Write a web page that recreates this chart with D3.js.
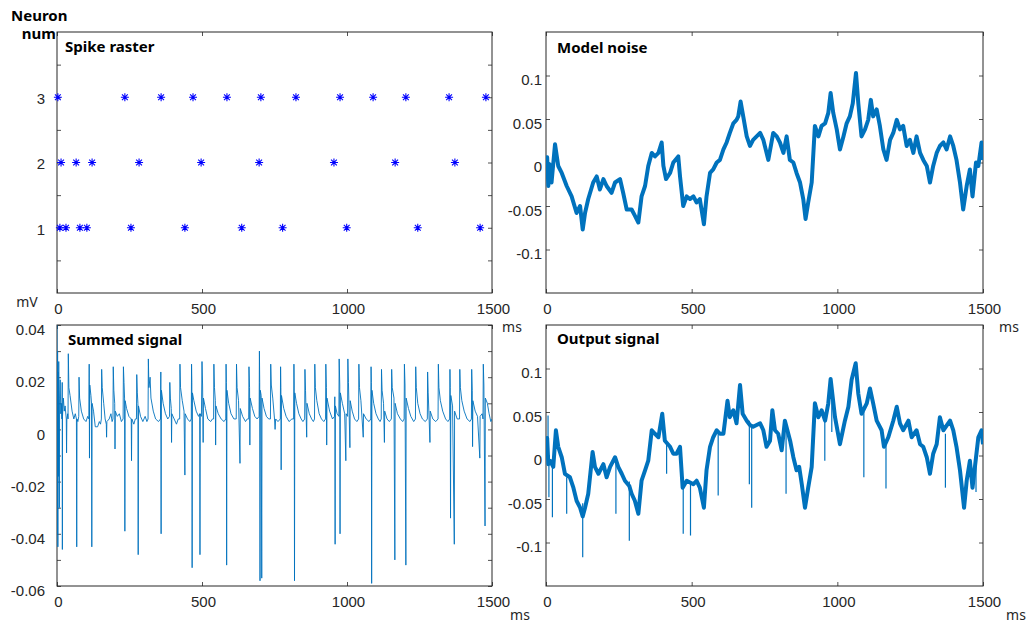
<!DOCTYPE html>
<html><head><meta charset="utf-8">
<script src="https://cdn.jsdelivr.net/npm/d3@7"></script>
<style>body{margin:0;background:#fff}svg{display:block}</style>
</head><body><svg id="c" width="1030" height="633"></svg>
<script>
// ---------------- DATA ----------------
const timeTicks = [0, 500, 1000, 1500];
const titles = ["Spike raster", "Model noise", "Summed signal", "Output signal"];

const spikeN1 = [10, 31, 79, 103, 255, 441, 637, 778, 999, 1244, 1459];
const spikeN2 = [14, 66, 121, 283, 497, 697, 955, 1166, 1372];
const spikeN3 = [3, 234, 359, 469, 586, 703, 824, 976, 1090, 1203, 1352, 1479];
const rasterTicks = [0.5, 1, 1.5, 2, 2.5, 3, 3.5];
const rasterLabels = [1, 2, 3];

const noiseTicks = [-0.1, -0.05, 0, 0.05, 0.1];
const summedTicks = [-0.06, -0.05, -0.04, -0.03, -0.02, -0.01, 0, 0.01, 0.02, 0.03, 0.04];
const summedLabels = [-0.06, -0.04, -0.02, 0, 0.02, 0.04];

const noise = [[0,-0.004],[4,0.006],[8,-0.027],[12,-0.002],[19,-0.023],[31,0.021],[42,-0.004],[54,-0.012],[71,-0.027],[88,-0.039],[105,-0.058],[117,-0.050],[126,-0.077],[134,-0.058],[145,-0.042],[162,-0.023],[174,-0.016],[185,-0.031],[197,-0.019],[208,-0.027],[225,-0.035],[237,-0.023],[254,-0.019],[265,-0.035],[277,-0.054],[294,-0.054],[305,-0.061],[317,-0.069],[328,-0.039],[340,-0.027],[351,-0.004],[363,0.011],[374,0.007],[386,0.011],[397,0.023],[403,-0.004],[412,-0.019],[426,-0.012],[437,0.000],[454,0.007],[460,-0.016],[471,-0.050],[483,-0.039],[494,-0.042],[506,-0.039],[517,-0.046],[528,-0.042],[542,-0.071],[551,-0.039],[563,-0.012],[574,-0.008],[586,0.000],[597,0.003],[609,0.015],[620,0.023],[631,0.034],[643,0.045],[654,0.049],[660,0.053],[668,0.070],[677,0.053],[689,0.030],[700,0.019],[711,0.026],[735,0.034],[746,0.026],[763,0.003],[780,0.034],[792,0.030],[803,0.023],[815,0.011],[826,0.030],[837,0.003],[849,0.000],[860,-0.012],[872,-0.023],[883,-0.042],[891,-0.065],[900,-0.046],[912,-0.023],[923,0.042],[935,0.030],[946,0.042],[958,0.045],[969,0.057],[977,0.080],[986,0.057],[998,0.038],[1009,0.015],[1021,0.030],[1032,0.045],[1043,0.053],[1053,0.068],[1064,0.103],[1072,0.068],[1083,0.030],[1095,0.038],[1106,0.049],[1115,0.072],[1123,0.053],[1135,0.061],[1146,0.042],[1158,0.015],[1169,0.003],[1181,0.026],[1192,0.034],[1204,0.049],[1215,0.038],[1226,0.042],[1238,0.019],[1249,0.026],[1261,0.011],[1272,0.030],[1284,0.011],[1295,0.003],[1307,-0.004],[1318,-0.023],[1329,-0.004],[1341,0.011],[1352,0.019],[1364,0.023],[1375,0.015],[1387,0.030],[1398,0.019],[1409,0.003],[1421,-0.023],[1432,-0.054],[1444,-0.027],[1455,-0.008],[1464,-0.039],[1476,0.000],[1484,-0.004],[1495,0.023],[1500,0.003]];

const summed = [[0,0.040],[1,-0.040],[2,0.030],[3,-0.045],[4,0.022],[5,-0.018],[6,0.026],[8,-0.030],[9,0.012],[11,0.019],[13,0.006],[15,0.010],[17,0.004],
[18,0.018],[18.5,-0.046],[19,0.005],[22,0.012],[25,0.007],[28,0.009],[32,0.004],[33,-0.009],[34,0.004],[37,0.006],
[38,0.004],[39,0.029],[41,0.016],[45,0.013],[52,0.007],[58,0.004],[63,0.006],[67,0.004],[68,-0.045],[69,0.004],[72,0.003],
[75,0.005],[76,0.020],[78,0.012],[84,0.007],[92,0.004],[100,0.003],[106,0.005],
[110,0.004],[111,0.025],[112,-0.011],[113,0.017],[117,0.013],[119,0.010],[120,-0.045],[121,0.010],[126,0.007],[132,0.001],[140,0.001],[146,0.003],[150,0.002],
[153,0.004],[154,0.023],[156,0.016],[161,0.010],[166,0.004],[170,0.002],[171,-0.003],[172,0.003],[180,0.004],[186,0.006],[190,0.003],
[193,0.004],[194,0.024],[196,0.015],[199,0.010],[200,-0.0075],[201,0.007],[208,0.005],[215,0.006],[222,0.003],
[228,0.004],[229,0.024],[231,0.018],[233,0.012],[234,-0.039],[235,0.011],[240,0.008],[248,0.005],[256,0.004],[257,-0.012],[258,0.004],[265,0.002],[270,0.004],
[274,0.004],[275,0.021],[277,0.014],[279,0.010],[280,-0.048],[281,0.009],[288,0.005],[296,0.003],[304,0.005],[310,0.003],
[314,0.004],[315,0.027],[317,0.016],[321,0.020],[324,0.012],[332,0.007],[340,0.004],[350,0.003],
[357,0.004],[358,0.022],[359,-0.040],[360,0.015],[366,0.010],[374,0.006],[382,0.004],
[388,0.005],[389,0.018],[391,0.012],[394,0.008],[395,-0.005],[396,0.006],[404,0.004],[412,0.002],[418,0.004],
[423,0.004],[424,0.025],[426,0.016],[432,0.011],[438,0.007],[441,-0.0175],[442,0.006],[450,0.004],[458,0.003],
[463,0.004],[464,0.025],[465,0.018],[466,-0.053],[467,0.014],[472,0.011],[480,0.007],[488,0.005],
[492,0.006],[493,-0.048],[494,0.006],[498,0.005],[500,0.026],[502,0.017],[504,-0.005],[505,0.012],[512,0.008],[520,0.004],[530,0.003],[536,0.004],
[540,0.004],[541,0.025],[543,0.016],[546,0.011],[547,-0.006],[548,0.009],[556,0.006],[566,0.004],[576,0.003],
[582,0.004],[583,0.025],[584,0.018],[585,-0.052],[586,0.015],[592,0.010],[600,0.006],[610,0.004],
[618,0.004],[619,0.025],[621,0.016],[626,0.011],[631,-0.013],[632,0.008],[640,0.005],[650,0.003],[656,0.004],
[661,0.004],[662,0.024],[664,0.016],[665,-0.006],[666,0.012],[674,0.008],[682,0.005],[690,0.004],
[697,0.005],[698,0.030],[699,0.018],[700,-0.058],[701,0.015],[704,0.013],[706,-0.057],[707,0.012],[714,0.008],[722,0.005],[730,0.004],
[736,0.004],[737,0.025],[739,0.017],[744,0.012],[750,0.004],[752,0.000],[754,0.004],[762,0.003],
[770,0.004],[771,0.024],[772,0.016],[773,-0.0155],[774,0.013],[782,0.008],[790,0.005],[800,0.003],[810,0.004],
[816,0.004],[817,0.025],[818,0.017],[819,-0.058],[820,0.014],[826,0.010],[834,0.006],[842,0.004],[848,0.003],
[854,0.004],[855,0.023],[857,0.015],[861,-0.003],[862,0.010],[870,0.006],[878,0.004],[884,0.003],
[888,0.004],[889,0.025],[891,0.016],[896,0.011],[904,0.006],[912,0.004],[920,0.003],
[926,0.004],[927,0.025],[929,0.016],[930,-0.006],[931,0.012],[940,0.007],[950,0.004],
[957,0.005],[958,0.0125],[959,-0.044],[960,0.009],[966,0.006],
[972,0.005],[973,0.027],[975,0.017],[976,-0.040],[977,0.014],[984,0.010],[992,0.006],[996,-0.012],[997,0.006],
[1002,0.005],[1003,0.027],[1005,0.018],[1010,-0.007],[1011,0.011],[1018,0.007],[1026,0.004],[1034,0.003],
[1040,0.004],[1041,0.025],[1043,0.016],[1048,0.011],[1056,-0.003],[1057,0.006],[1066,0.004],[1076,0.003],
[1082,0.004],[1083,0.024],[1084,0.018],[1085,-0.059],[1086,0.015],[1092,0.010],[1100,0.006],[1108,0.004],[1114,0.003],
[1118,0.004],[1119,0.023],[1121,0.015],[1126,0.010],[1129,-0.005],[1130,0.007],[1138,0.004],[1146,0.003],
[1153,0.004],[1154,0.023],[1156,0.016],[1162,0.012],[1165,-0.050],[1166,0.010],[1174,0.006],[1184,0.004],[1192,0.003],
[1197,0.004],[1198,0.025],[1200,0.017],[1203,-0.052],[1204,0.012],[1212,0.008],[1220,0.005],[1230,0.003],
[1236,0.004],[1237,0.024],[1239,0.016],[1244,0.010],[1252,0.006],[1260,0.004],[1270,0.003],
[1277,0.004],[1278,0.022],[1280,0.014],[1286,-0.005],[1287,0.007],[1296,0.004],[1306,0.003],
[1314,0.004],[1315,0.025],[1317,0.016],[1322,0.011],[1330,0.007],[1340,0.004],[1348,0.003],
[1354,0.004],[1355,0.023],[1356,0.016],[1357,-0.034],[1358,0.013],[1364,0.009],[1370,-0.044],[1371,0.007],[1380,0.004],
[1388,0.004],[1389,0.023],[1391,0.016],[1396,0.011],[1404,0.007],[1414,0.004],[1424,0.003],
[1429,0.004],[1430,0.023],[1432,0.015],[1433,-0.0066],[1434,0.011],[1442,0.007],[1450,0.005],[1458,-0.011],[1459,0.005],
[1466,0.006],[1469,0.004],[1470,0.025],[1472,0.017],[1476,-0.037],[1477,0.012],[1484,0.010],[1490,0.006],[1496,0.003],[1500,0.004]];

const outputTrace = [[0,0.010],[4,0.020],[8,-0.010],[14,-0.006],[25,-0.013],[34,0.029],[42,0.010],[54,-0.002],[65,-0.021],[82,-0.025],[94,-0.037],[105,-0.052],[117,-0.060],[126,-0.070],[134,-0.060],[145,-0.044],[160,0.004],[168,-0.013],[180,-0.021],[197,-0.010],[208,-0.025],[220,-0.013],[237,-0.002],[248,-0.013],[260,-0.021],[271,-0.029],[286,-0.035],[294,-0.044],[305,-0.052],[317,-0.067],[328,-0.029],[340,-0.017],[351,-0.006],[363,0.029],[374,0.025],[386,0.021],[399,0.048],[408,0.017],[426,0.010],[437,0.002],[448,0.002],[460,0.010],[469,-0.037],[483,-0.029],[506,-0.033],[517,-0.029],[528,-0.037],[542,-0.060],[551,-0.017],[563,0.010],[574,0.021],[586,0.029],[597,0.025],[609,0.025],[623,0.063],[631,0.044],[643,0.052],[654,0.037],[666,0.081],[675,0.048],[689,0.040],[700,0.035],[711,0.033],[735,0.037],[746,0.029],[757,0.010],[769,0.017],[777,0.052],[786,0.029],[797,0.025],[809,0.006],[820,0.040],[838,0.017],[849,-0.002],[860,-0.017],[869,-0.013],[878,-0.033],[889,-0.060],[900,-0.037],[912,-0.013],[923,0.060],[935,0.044],[946,0.052],[958,0.040],[969,0.060],[977,0.088],[992,0.044],[1009,0.013],[1026,0.040],[1038,0.056],[1049,0.087],[1063,0.106],[1072,0.071],[1083,0.048],[1101,0.060],[1112,0.077],[1123,0.060],[1135,0.040],[1152,0.029],[1160,0.010],[1175,0.021],[1192,0.040],[1204,0.056],[1215,0.037],[1226,0.029],[1244,0.040],[1255,0.021],[1272,0.029],[1284,0.013],[1295,0.010],[1307,-0.002],[1318,-0.021],[1329,0.002],[1341,0.013],[1352,0.044],[1364,0.029],[1387,0.040],[1398,0.029],[1409,0.010],[1421,-0.017],[1435,-0.060],[1444,-0.029],[1455,-0.006],[1464,-0.037],[1484,0.021],[1495,0.029],[1500,0.013]];
// [time, top, bottom] of the thin spikes riding on the output trace
const outputSpikes = [[7,0.046,-0.005],[10,0.0,-0.048],[22,-0.005,-0.071],[71,-0.025,-0.067],[126,-0.055,-0.117],[240,-0.005,-0.067],[286,-0.030,-0.098],[414,0.015,-0.021],[471,-0.030,-0.090],[496,-0.030,-0.092],[591,0.025,-0.046],[698,0.040,-0.033],[706,0.035,-0.060],[824,0.035,-0.044],[957,0.040,-0.006],[981,0.070,0.027],[1091,0.050,-0.025],[1167,0.015,-0.038],[1371,0.025,-0.037],[1476,0.000,-0.042]];

// ---------------- DRAW ----------------
const svg = d3.select("#c");
const AX = "#262626", LINE = "#0072BD";
const TICKFONT = "'Liberation Sans', Arial, sans-serif";
const BOLDFONT = "'Noto Sans', 'Open Sans', sans-serif";
const fmt = d => String(Math.round(d * 1000) / 1000);

function makePanel(L, T, R, B, yDom) {
  return {L, T, R, B,
    x: d3.scaleLinear().domain([0, 1500]).range([L, R]),
    y: d3.scaleLinear().domain(yDom).range([B, T])};
}
const pTL = makePanel(57, 32, 492, 293, [0, 4]);
const pTR = makePanel(546, 32, 983, 293, [-0.15, 0.15]);
const pBL = makePanel(57, 325, 492, 586, [-0.06, 0.04]);
const pBR = makePanel(546, 325, 983, 586, [-0.15, 0.15]);

function frame(p, yTicks, yLabels, ypad, ydy, id) {
  const g = svg.append("g");
  const isLab = d => yLabels.some(l => Math.abs(l - d) < 1e-9);
  const style = s => {
    s.select(".domain").remove();
    s.selectAll(".tick line").attr("stroke", AX).attr("stroke-width", 0.8);
    s.selectAll("text").attr("fill", AX).style("font-family", TICKFONT).style("font-size", "15px");
  };
  g.append("g").attr("transform", `translate(0,${p.B})`)
    .call(d3.axisBottom(p.x).tickValues(timeTicks).tickSize(-4).tickPadding(10).tickFormat(d3.format("d")))
    .call(style).call(s => s.selectAll("text").attr("dx", 1));
  g.append("g").attr("transform", `translate(0,${p.T})`)
    .call(d3.axisTop(p.x).tickValues(timeTicks).tickSize(-4).tickFormat(""))
    .call(style);
  g.append("g").attr("transform", `translate(${p.L},0)`)
    .call(d3.axisLeft(p.y).tickValues(yTicks).tickSize(-4).tickPadding(ypad).tickFormat(d => isLab(d) ? fmt(d) : ""))
    .call(style).call(s => s.selectAll("text").attr("dy", ydy));
  g.append("g").attr("transform", `translate(${p.R},0)`)
    .call(d3.axisRight(p.y).tickValues(yTicks).tickSize(-4).tickFormat(""))
    .call(style);
  g.append("rect").attr("x", p.L).attr("y", p.T).attr("width", p.R - p.L).attr("height", p.B - p.T)
    .attr("fill", "none").attr("stroke", AX).attr("stroke-width", 1);
  svg.append("clipPath").attr("id", id).append("rect")
    .attr("x", p.L).attr("y", p.T).attr("width", p.R - p.L).attr("height", p.B - p.T);
}

frame(pTL, rasterTicks, rasterLabels, 12, "0.42em", "cTL");
frame(pTR, noiseTicks, noiseTicks, 4, "0.62em", "cTR");
frame(pBL, summedTicks, summedLabels, 12, "0.64em", "cBL");
frame(pBR, noiseTicks, noiseTicks, 4, "0.62em", "cBR");

// raster asterisks
const star = "M-4,0H4M0,-4V4M-2.9,-2.9L2.9,2.9M-2.9,2.9L2.9,-2.9";
[[spikeN1, 1], [spikeN2, 2], [spikeN3, 3]].forEach(([arr, n]) => {
  svg.append("g").selectAll("path").data(arr).join("path")
    .attr("d", star).attr("transform", t => `translate(${pTL.x(t)},${pTL.y(n)})`)
    .attr("stroke", "#0000FF").attr("stroke-width", 1.1).attr("fill", "none");
});

function drawLine(p, data, id, w) {
  const ln = d3.line().x(d => p.x(d[0])).y(d => p.y(d[1]));
  svg.append("path").datum(data).attr("clip-path", `url(#${id})`)
    .attr("d", ln).attr("fill", "none").attr("stroke", LINE)
    .attr("stroke-width", w).attr("stroke-linejoin", "round");
}
drawLine(pTR, noise, "cTR", 4);
drawLine(pBL, summed, "cBL", 0.9);
drawLine(pBR, outputTrace, "cBR", 4);
svg.append("g").attr("clip-path", "url(#cBR)").selectAll("line").data(outputSpikes).join("line")
  .attr("x1", d => pBR.x(d[0])).attr("x2", d => pBR.x(d[0]))
  .attr("y1", d => pBR.y(d[1])).attr("y2", d => pBR.y(d[2]))
  .attr("stroke", LINE).attr("stroke-width", 1.2);

// titles
const tpos = [[65, 52], [557, 53], [68, 345], [557, 344]];
titles.forEach((t, i) => svg.append("text").text(t).attr("x", tpos[i][0]).attr("y", tpos[i][1])
  .style("font-family", BOLDFONT).style("font-weight", "bold").style("font-size", "15px").attr("fill", "#000"));

svg.append("text").text("Neuron").attr("x", 11).attr("y", 21).style("font-family", BOLDFONT)
  .style("font-weight", "bold").style("font-size", "15px");
svg.append("text").text("num").attr("x", 56).attr("y", 39).attr("text-anchor", "end").style("font-family", BOLDFONT)
  .style("font-weight", "bold").style("font-size", "15px");

const unit = (t, x, y) => svg.append("text").text(t).attr("x", x).attr("y", y).attr("text-anchor", "middle")
  .style("font-family", BOLDFONT).style("font-size", "14px").attr("fill", AX);
unit("mV", 27, 307);
unit("ms", 512, 332);
unit("ms", 1009, 332);
unit("ms", 520, 620);
unit("ms", 1016, 620);
</script></body></html>
